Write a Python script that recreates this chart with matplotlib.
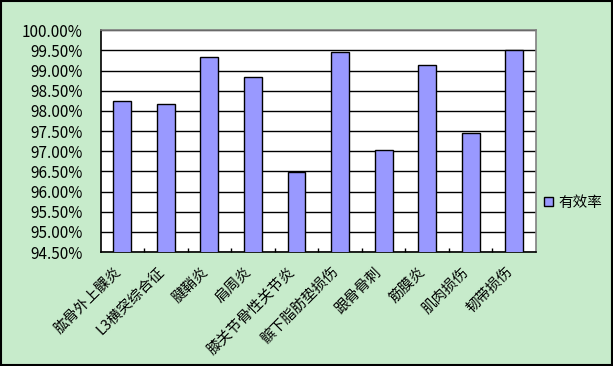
import matplotlib.pyplot as plt
from matplotlib.ticker import FuncFormatter
from matplotlib.transforms import ScaledTranslation

plt.rcParams['font.family'] = ['Noto Sans CJK SC', 'DejaVu Sans']

# data
categories = ['肱骨外上髁炎', 'L3横突综合征', '腱鞘炎', '肩周炎', '膝关节骨性关节炎',
              '髌下脂肪垫损伤', '跟骨骨刺', '筋膜炎', '肌肉损伤', '韧带损伤']
rates = [98.24, 98.16, 99.33, 98.83, 96.48, 99.45, 97.02, 99.13, 97.44, 99.50]
yticks = [94.5 + 0.5 * i for i in range(12)]

bg = '#c7ebcb'
fig = plt.figure(figsize=(6.13, 3.66), dpi=100, facecolor=bg)
ax = fig.add_axes([100.5 / 613, 1 - 252 / 366, 435.5 / 613, 221.7 / 366])
ax.set_facecolor('white')

x = range(len(categories))
ax.bar(x, rates, width=0.41, color='#9999ff', edgecolor='black', linewidth=1,
       label='有效率', zorder=3)

ax.set_ylim(94.5, 100)
ax.set_xlim(-0.5, len(categories) - 0.5)
ax.set_yticks(yticks)
ax.yaxis.set_major_formatter(FuncFormatter(lambda v, p: f'{v:.2f}%'))
ax.grid(axis='y', color='black', linewidth=1, zorder=0)
ax.tick_params(axis='y', length=0, pad=13, labelsize=11)

# category ticks at boundaries, labels centred on bars
ax.set_xticks([i + 0.5 for i in range(len(categories) - 1)])
ax.set_xticklabels([])
ax.tick_params(axis='x', which='major', direction='in', length=3, width=1)
ax.set_xticks(list(x), minor=True)
ax.set_xticklabels(categories, minor=True, rotation=45, ha='right',
                   rotation_mode='anchor', fontsize=10.5)
ax.tick_params(axis='x', which='minor', length=0, pad=9)
shift = ScaledTranslation(-9 / 100, 0, fig.dpi_scale_trans)
for lab in ax.get_xticklabels(minor=True):
    lab.set_transform(lab.get_transform() + shift)

for s in ['left', 'bottom']:
    ax.spines[s].set_color('black')
    ax.spines[s].set_linewidth(1.2)
for s in ['top', 'right']:
    ax.spines[s].set_color('#808080')
    ax.spines[s].set_linewidth(1.2)

ax.legend(loc='center left', bbox_to_anchor=(531 / 613, 1 - 203 / 366),
          bbox_transform=fig.transFigure, frameon=False, fontsize=10.5,
          handlelength=0.6, handleheight=0.6, handletextpad=0.4)

fig.patches.append(plt.Rectangle((0.001, 0.002), 0.997, 0.996, transform=fig.transFigure,
                                 fill=False, edgecolor='black', linewidth=1.5))

fig.savefig('out.png', dpi=100, facecolor=bg)
